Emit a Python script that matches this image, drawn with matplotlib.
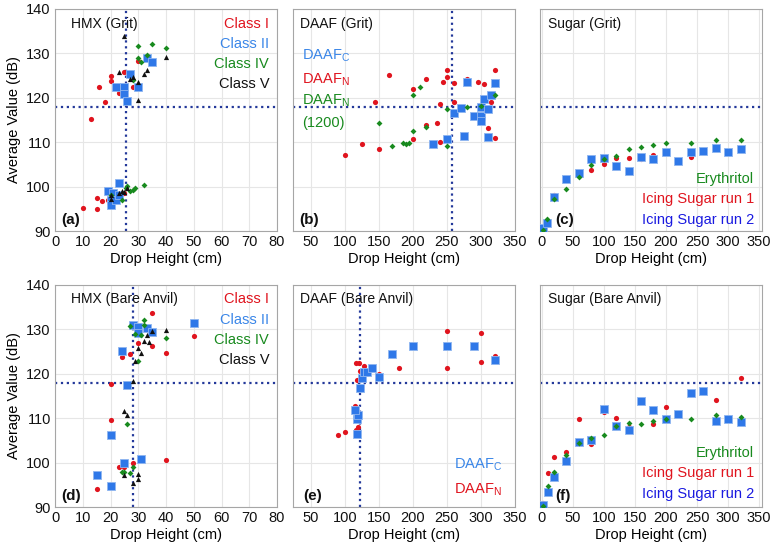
import matplotlib
matplotlib.use("Agg")
import matplotlib.pyplot as plt

plt.rcParams['font.family'] = ['Liberation Sans', 'DejaVu Sans']

RED = '#e0141e'
BLUE = '#2f78e8'
GREEN = '#188a1e'
BLACK = '#111111'
LINE = '#23389a'

# (a) HMX grit
a_c1_x = [13, 16, 18, 20, 20, 23, 25, 28, 30, 10, 15, 15, 17, 19, 23, 25]
a_c1_y = [115.1, 122.4, 119.1, 124.8, 123.7, 121.0, 125.8, 122.3, 128.2, 95.1, 97.4, 94.9, 96.7, 96.9, 98.3, 98.6]
a_c2_x = [22, 25, 25, 26, 27, 30, 33, 35, 19, 20, 20, 21, 22, 23, 23]
a_c2_y = [122.4, 122.4, 120.9, 119.2, 125.4, 122.3, 128.9, 127.9, 99.0, 96.9, 95.8, 98.6, 96.9, 98.0, 100.8]
a_c4_x = [30, 35, 40, 30, 33, 31, 28, 20, 24, 25.5, 26, 27, 28, 29, 32]
a_c4_y = [131.6, 132.0, 131.2, 128.8, 129.6, 128.0, 123.9, 98.2, 96.9, 99.7, 100.1, 99.0, 99.3, 99.6, 100.4]
a_c5_x = [25, 40, 23, 28, 33, 32, 30, 27, 30, 20, 20, 23, 24, 25, 26]
a_c5_y = [133.9, 129.2, 125.8, 124.7, 126.2, 125.2, 123.5, 124.2, 119.4, 97.2, 98.0, 98.6, 99.0, 98.8, 99.7]

# (b) DAAF grit
b_c_x = [230, 250, 260, 270, 275, 280, 290, 300, 300, 300, 305, 310, 310, 315, 320]
b_c_y = [109.6, 110.7, 116.6, 117.6, 111.4, 123.6, 115.8, 117.8, 115.8, 114.8, 119.6, 117.5, 111.2, 120.6, 123.3]
b_n_x = [100, 125, 150, 145, 165, 200, 200, 220, 220, 235, 240, 240, 245, 250, 250,
         260, 260, 280, 295, 305, 315, 320, 310, 320, 300]
b_n_y = [107.0, 109.5, 108.4, 119.1, 125.1, 122.0, 110.7, 124.2, 113.8, 114.3, 118.5, 110.1, 123.6, 126.1, 124.7,
         123.3, 119.1, 124.2, 123.6, 123.0, 119.1, 126.2, 113.2, 111.0, 118.1]
b_n1200_x = [150, 170, 185, 190, 195, 200, 200, 210, 220, 250, 250, 280, 300, 320]
b_n1200_y = [114.2, 109.2, 109.9, 109.5, 109.7, 112.5, 120.6, 122.4, 113.4, 117.4, 109.1, 117.9, 118.2, 120.6]

# (c) sugar grit
c_run2_x = [2, 8, 20, 40, 60, 80, 100, 120, 140, 160, 180, 200, 220, 240, 260, 280, 300, 320]
c_run2_y = [90.6, 91.9, 97.7, 101.8, 103.1, 106.1, 106.4, 104.7, 103.6, 106.7, 106.2, 107.8, 105.7, 107.7, 108.1, 108.7, 107.8, 108.4]
c_run1_x = [20, 40, 60, 80, 100, 120, 140, 160, 180, 240]
c_run1_y = [98.2, 101.5, 103.0, 103.8, 105.1, 106.4, 106.4, 106.3, 107.0, 106.6]
c_ery_x = [2, 8, 20, 40, 60, 80, 100, 120, 140, 160, 180, 200, 240, 280, 320]
c_ery_y = [90.2, 92.6, 97.1, 99.4, 102.2, 104.8, 106.3, 106.9, 108.4, 108.9, 109.3, 109.7, 109.9, 110.4, 110.4]

# (d) HMX bare anvil
d_c1_x = [35, 50, 30, 35, 27, 24, 40, 20, 20, 23, 25, 28, 40, 15]
d_c1_y = [133.7, 128.5, 126.9, 126.1, 124.4, 123.8, 124.7, 117.7, 109.5, 98.9, 98.9, 99.8, 100.5, 94.1]
d_c2_x = [28, 30, 30, 33, 35, 50, 24, 26, 20, 25, 31, 15, 20]
d_c2_y = [130.9, 130.4, 129.2, 130.3, 129.3, 131.4, 125.0, 117.4, 106.1, 99.8, 100.8, 97.1, 94.7]
d_c4_x = [27, 32, 32, 29, 31, 40, 30, 26, 24, 25, 27, 28]
d_c4_y = [130.8, 132.0, 130.9, 128.8, 128.6, 128.0, 122.9, 108.6, 97.8, 97.8, 97.7, 99.0]
d_c5_x = [40, 35, 33, 32, 34, 30, 31, 29, 28, 25, 26, 25, 28, 30, 30]
d_c5_y = [129.8, 129.5, 128.7, 127.3, 127.2, 125.8, 124.7, 122.9, 118.3, 111.6, 110.8, 97.1, 95.5, 97.4, 96.3]

# (e) DAAF bare anvil
e_c_x = [118, 118, 120, 115, 123, 125, 128, 133, 140, 150, 170, 200, 250, 290, 320]
e_c_y = [106.5, 109.8, 110.8, 111.8, 116.8, 119.1, 120.3, 120.3, 121.3, 119.3, 124.5, 126.2, 126.2, 126.2, 123.1]
e_n_x = [90, 100, 117, 120, 115, 118, 117, 121, 123, 128, 150, 180, 250, 250, 300, 300, 320]
e_n_y = [106.3, 106.9, 107.3, 107.9, 112.7, 118.5, 122.3, 122.3, 120.6, 121.6, 120.0, 121.2, 129.5, 121.2, 129.1, 122.7, 123.9]

# (f) sugar bare anvil
f_run2_x = [2, 10, 20, 40, 60, 80, 100, 120, 140, 160, 180, 200, 220, 240, 260, 280, 300, 320]
f_run2_y = [90.4, 93.3, 96.7, 100.4, 104.6, 105.0, 112.0, 108.3, 107.3, 113.9, 111.8, 109.7, 110.9, 115.7, 116.0, 109.4, 109.9, 109.2]
f_run1_x = [2, 10, 20, 40, 60, 80, 100, 120, 140, 180, 200, 240, 280, 320]
f_run1_y = [91.0, 97.7, 101.3, 102.4, 109.7, 104.1, 111.4, 110.1, 108.0, 108.7, 112.6, 115.4, 114.1, 119.1]
f_ery_x = [2, 10, 20, 40, 60, 80, 100, 120, 140, 160, 180, 200, 240, 280, 320]
f_ery_y = [90.2, 94.7, 97.9, 101.8, 104.3, 105.6, 106.2, 108.2, 108.8, 108.7, 109.3, 109.8, 109.8, 110.8, 110.2]

threshold = 117.8
v_lines = {'a': 25.5, 'b': 258, 'd': 28, 'e': 122}

fig = plt.figure(figsize=(7.77, 5.49), dpi=100)
lefts = [0.0708, 0.3771, 0.695]
bottoms = [0.5792, 0.0765]
w, h = 0.2857, 0.405


def base_axes(left, bottom, xlim, xticks, show_y):
    ax = fig.add_axes([left, bottom, w, h])
    ax.set_xlim(*xlim)
    ax.set_ylim(90, 140)
    ax.set_xticks(xticks)
    ax.set_yticks(range(90, 141, 10))
    ax.grid(True, color='#e6e6e6', linewidth=0.8)
    ax.set_axisbelow(True)
    for s in ax.spines.values():
        s.set_color('#a6a6a6')
    ax.tick_params(length=0, labelsize=10.5, pad=3, colors='#111111')
    if show_y:
        ax.set_ylabel('Average Value (dB)', fontsize=10.5)
    else:
        ax.set_yticklabels([])
    ax.set_xlabel('Drop Height (cm)', fontsize=10.5, labelpad=2)
    ax.axhline(threshold, color=LINE, linestyle=':', linewidth=1.6, zorder=1)
    return ax


def pts(ax, x, y, kind):
    if kind == 'circle':
        ax.scatter(x, y, s=14, c=RED, marker='o', linewidths=0, zorder=3)
    elif kind == 'square':
        ax.scatter(x, y, s=30, c=BLUE, marker='s', edgecolors='#8fb6f0', linewidths=0.6, zorder=3)
    elif kind == 'diamond':
        ax.scatter(x, y, s=9, c=GREEN, marker='D', linewidths=0, zorder=4)
    elif kind == 'triangle':
        ax.scatter(x, y, s=14, c=BLACK, marker='^', linewidths=0, zorder=4)


def label(ax, x, y, s, color='#111111', ha='left', bold=False, size=10):
    ax.text(x, y, s, transform=ax.transAxes, color=color, ha=ha, va='center',
            fontsize=size, fontweight='bold' if bold else 'normal')


hmx_ticks = range(0, 81, 10)
daaf_ticks = range(50, 351, 50)
sugar_ticks = range(0, 351, 50)

# (a)
ax = base_axes(lefts[0], bottoms[0], (0, 80), hmx_ticks, True)
ax.axvline(v_lines['a'], color=LINE, linestyle=':', linewidth=1.6, zorder=1)
pts(ax, a_c1_x, a_c1_y, 'circle')
pts(ax, a_c2_x, a_c2_y, 'square')
pts(ax, a_c4_x, a_c4_y, 'diamond')
pts(ax, a_c5_x, a_c5_y, 'triangle')
label(ax, 0.07, 0.933, 'HMX (Grit)')
for yy, txt, col in [(0.933, 'Class I', RED), (0.843, 'Class II', '#3a86e8'),
                     (0.753, 'Class IV', GREEN), (0.659, 'Class V', BLACK)]:
    label(ax, 0.965, yy, txt, col, ha='right', size=10.5)
label(ax, 0.03, 0.05, '(a)', bold=True, size=11)

# (b)
ax = base_axes(lefts[1], bottoms[0], (24, 350), daaf_ticks, False)
ax.axvline(v_lines['b'], color=LINE, linestyle=':', linewidth=1.6, zorder=1)
pts(ax, b_n1200_x, b_n1200_y, 'diamond')
pts(ax, b_n_x, b_n_y, 'circle')
pts(ax, b_c_x, b_c_y, 'square')
label(ax, 0.03, 0.933, 'DAAF (Grit)')
label(ax, 0.04, 0.79, r'DAAF$_\mathregular{C}$', '#3a86e8', size=10.5)
label(ax, 0.04, 0.68, r'DAAF$_\mathregular{N}$', RED, size=10.5)
label(ax, 0.04, 0.587, r'DAAF$_\mathregular{N}$', GREEN, size=10.5)
label(ax, 0.04, 0.484, '(1200)', GREEN, size=10.5)
label(ax, 0.03, 0.05, '(b)', bold=True, size=11)

# (c)
ax = base_axes(lefts[2], bottoms[0], (-2.5, 354.5), sugar_ticks, False)
pts(ax, c_ery_x, c_ery_y, 'diamond')
pts(ax, c_run1_x, c_run1_y, 'circle')
pts(ax, c_run2_x, c_run2_y, 'square')
label(ax, 0.036, 0.933, 'Sugar (Grit)')
label(ax, 0.964, 0.233, 'Erythritol', GREEN, ha='right', size=10.5)
label(ax, 0.964, 0.143, 'Icing Sugar run 1', RED, ha='right', size=10.5)
label(ax, 0.964, 0.049, 'Icing Sugar run 2', '#1a1ae0', ha='right', size=10.5)
label(ax, 0.07, 0.05, '(c)', bold=True, size=11)

# (d)
ax = base_axes(lefts[0], bottoms[1], (0, 80), hmx_ticks, True)
ax.axvline(v_lines['d'], color=LINE, linestyle=':', linewidth=1.6, zorder=1)
pts(ax, d_c1_x, d_c1_y, 'circle')
pts(ax, d_c2_x, d_c2_y, 'square')
pts(ax, d_c4_x, d_c4_y, 'diamond')
pts(ax, d_c5_x, d_c5_y, 'triangle')
label(ax, 0.07, 0.936, 'HMX (Bare Anvil)')
for yy, txt, col in [(0.936, 'Class I', RED), (0.842, 'Class II', '#3a86e8'),
                     (0.749, 'Class IV', GREEN), (0.659, 'Class V', BLACK)]:
    label(ax, 0.965, yy, txt, col, ha='right', size=10.5)
label(ax, 0.03, 0.05, '(d)', bold=True, size=11)

# (e)
ax = base_axes(lefts[1], bottoms[1], (24, 350), daaf_ticks, False)
ax.axvline(v_lines['e'], color=LINE, linestyle=':', linewidth=1.6, zorder=1)
pts(ax, e_n_x, e_n_y, 'circle')
pts(ax, e_c_x, e_c_y, 'square')
label(ax, 0.03, 0.936, 'DAAF (Bare Anvil)')
label(ax, 0.94, 0.19, r'DAAF$_\mathregular{C}$', '#3a86e8', ha='right', size=10.5)
label(ax, 0.94, 0.077, r'DAAF$_\mathregular{N}$', RED, ha='right', size=10.5)
label(ax, 0.045, 0.05, '(e)', bold=True, size=11)

# (f)
ax = base_axes(lefts[2], bottoms[1], (-2.5, 354.5), sugar_ticks, False)
pts(ax, f_ery_x, f_ery_y, 'diamond')
pts(ax, f_run1_x, f_run1_y, 'circle')
pts(ax, f_run2_x, f_run2_y, 'square')
label(ax, 0.036, 0.936, 'Sugar (Bare Anvil)')
label(ax, 0.964, 0.243, 'Erythritol', GREEN, ha='right', size=10.5)
label(ax, 0.964, 0.153, 'Icing Sugar run 1', RED, ha='right', size=10.5)
label(ax, 0.964, 0.059, 'Icing Sugar run 2', '#1a1ae0', ha='right', size=10.5)
label(ax, 0.07, 0.05, '(f)', bold=True, size=11)

fig.savefig('out.png', dpi=100)
